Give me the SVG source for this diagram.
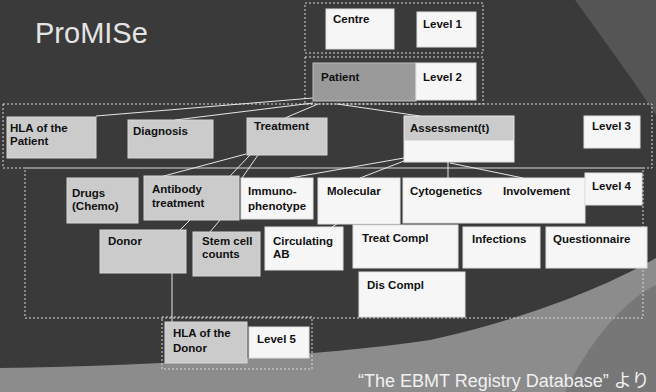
<svg xmlns="http://www.w3.org/2000/svg" width="656" height="392" viewBox="0 0 656 392">
<style>
.bg{fill:#3a3a3a}
.ct{fill:none;stroke:#d8d8d8;stroke-width:1;stroke-dasharray:2 2}
.st{fill:#cbcbcb;stroke:#d6d6d6;stroke-width:1}
.wh{fill:#f6f6f6;stroke:#e0e0e0;stroke-width:1}
.ha{fill:#9a9a9a;stroke:#bbb;stroke-width:1}
.t{font-family:"Liberation Sans",Arial,sans-serif;font-weight:bold;font-size:11.5px;fill:#111}
.cn line{stroke:#e6e6e6;stroke-width:1}
</style>
<rect class="bg" x="0" y="0" width="656" height="392"/>
<path d="M575,0 L656,0 L656,115 C630,75 600,35 575,0 Z" fill="#555"/>
<path d="M0,368 C150,366 330,355 430,340 C520,320 600,290 656,258 L656,392 L0,392 Z" fill="#8c8c8c"/>
<path d="M565,392 C590,340 625,300 656,285 L656,392 Z" fill="#777"/>
<text x="35" y="43" font-family="'Liberation Sans',Arial,sans-serif" font-size="29" fill="#e4e4e4">ProMISe</text>

<g id="containers">
<rect class="ct" x="305" y="3" width="178" height="50"/>
<rect class="ct" x="305" y="57" width="178" height="47"/>
<rect class="ct" x="3" y="104" width="649" height="64"/>
<rect class="ct" x="25" y="168" width="618" height="150"/>
<rect class="ct" x="162" y="317" width="150" height="52"/>
</g>

<g id="connectors" class="cn">
<line x1="313" y1="98" x2="96" y2="116"/>
<line x1="313" y1="103" x2="175" y2="120"/>
<line x1="318" y1="104" x2="285" y2="118"/>
<line x1="337" y1="104" x2="420" y2="116"/>
<line x1="246" y1="154" x2="160" y2="177"/>
<line x1="250" y1="155" x2="230" y2="176"/>
<line x1="258" y1="155" x2="242" y2="178"/>
<line x1="404" y1="158" x2="290" y2="178"/>
<line x1="404" y1="161" x2="360" y2="178"/>
<line x1="448" y1="162" x2="448" y2="178"/>
<line x1="450" y1="163" x2="523" y2="178"/>
<line x1="190" y1="220" x2="180" y2="230"/>
<line x1="220" y1="220" x2="210" y2="232"/>
<line x1="340" y1="222" x2="332" y2="227"/>
<line x1="172" y1="273" x2="172" y2="322"/>
</g>

<g id="centre"><rect class="wh" x="326" y="9" width="68" height="40"/><text class="t" x="333" y="23">Centre</text></g>
<g id="level1"><rect class="wh" x="417" y="12" width="59" height="35"/><text class="t" x="423" y="28">Level 1</text></g>
<g id="patient"><rect class="ha" x="313" y="63" width="103" height="38"/><text class="t" x="321" y="81">Patient</text></g>
<g id="level2"><rect class="wh" x="416" y="63" width="60" height="37"/><text class="t" x="423" y="81">Level 2</text></g>

<g id="hla-patient"><rect class="st" x="7" y="117" width="89" height="41"/><text class="t" x="10" y="132">HLA of the</text><text class="t" x="10" y="145">Patient</text></g>
<g id="diagnosis"><rect class="st" x="128" y="120" width="85" height="38"/><text class="t" x="133" y="135">Diagnosis</text></g>
<g id="treatment"><rect class="st" x="247" y="118" width="80" height="37"/><text class="t" x="254" y="130">Treatment</text></g>
<g id="assessment"><rect class="wh" x="404" y="116" width="110" height="46"/><rect x="404.5" y="116.5" width="109" height="24" fill="#cbcbcb"/><text class="t" x="410" y="132">Assessment(t)</text></g>
<g id="level3"><rect class="wh" x="584" y="116" width="56" height="32"/><text class="t" x="592" y="130">Level 3</text></g>

<g id="drugs"><rect class="st" x="67" y="178" width="71" height="45"/><text class="t" x="72" y="197">Drugs</text><text class="t" x="72" y="210">(Chemo)</text></g>
<g id="antibody"><rect class="st" x="144" y="176" width="95" height="44"/><text class="t" x="152" y="193">Antibody</text><text class="t" x="152" y="207">treatment</text></g>
<g id="immuno"><rect class="wh" x="241" y="178" width="72" height="41"/><text class="t" x="248" y="195">Immuno-</text><text class="t" x="248" y="210">phenotype</text></g>
<g id="molecular"><rect class="wh" x="318" y="178" width="82" height="46"/><text class="t" x="327" y="195">Molecular</text></g>
<g id="cyto"><rect class="wh" x="403" y="178" width="182" height="45"/><text class="t" x="410" y="195">Cytogenetics</text><text class="t" x="503" y="195">Involvement</text></g>
<g id="level4"><rect class="wh" x="585" y="173" width="57" height="32"/><text class="t" x="592" y="190">Level 4</text></g>

<g id="donor"><rect class="st" x="100" y="230" width="86" height="43"/><text class="t" x="108" y="245">Donor</text></g>
<g id="stemcell"><rect class="st" x="193" y="232" width="67" height="44"/><text class="t" x="202" y="245">Stem cell</text><text class="t" x="202" y="258">counts</text></g>
<g id="circulating"><rect class="wh" x="265" y="227" width="78" height="43"/><text class="t" x="273" y="245">Circulating</text><text class="t" x="273" y="258">AB</text></g>
<g id="treatcompl"><rect class="wh" x="353" y="225" width="105" height="43"/><text class="t" x="362" y="242">Treat Compl</text></g>
<g id="infections"><rect class="wh" x="463" y="227" width="77" height="41"/><text class="t" x="472" y="243">Infections</text></g>
<g id="questionnaire"><rect class="wh" x="546" y="227" width="101" height="41"/><text class="t" x="553" y="243">Questionnaire</text></g>
<g id="discompl"><rect class="wh" x="359" y="272" width="106" height="45"/><text class="t" x="367" y="289">Dis Compl</text></g>

<g id="hla-donor"><rect class="st" x="165" y="322" width="82" height="41"/><text class="t" x="173" y="337">HLA of the</text><text class="t" x="173" y="352">Donor</text></g>
<g id="level5"><rect class="wh" x="249" y="327" width="60" height="31"/><text class="t" x="257" y="343">Level 5</text></g>

<text x="358" y="387" font-family="'Liberation Sans',Arial,'Noto Sans CJK JP',sans-serif" font-size="18" fill="#f0f0f0">“The EBMT Registry Database” より</text>
</svg>
